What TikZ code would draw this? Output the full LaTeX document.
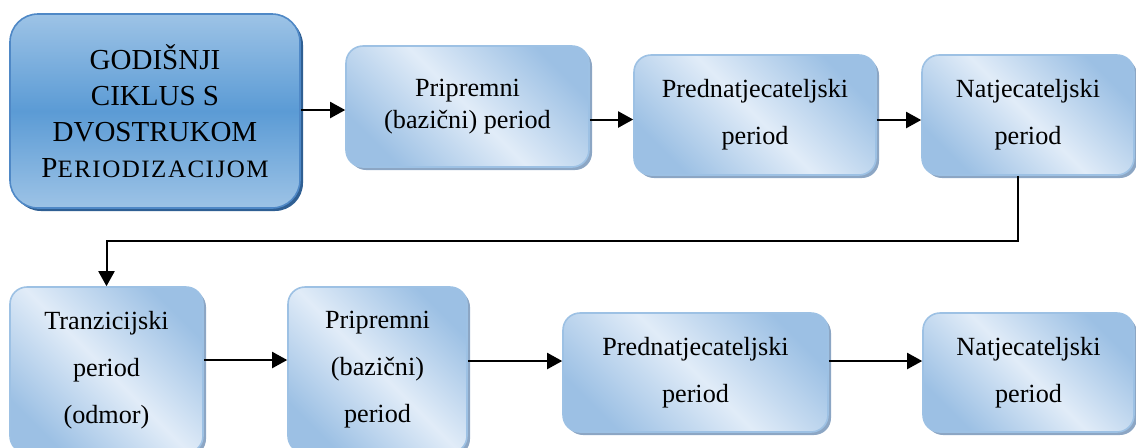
\documentclass[tikz,border=0pt]{standalone}
\usepackage{fontspec}
\setmainfont{Liberation Serif}
\usetikzlibrary{shadows,arrows.meta}
\definecolor{mainblue}{HTML}{5B9BD5}
\definecolor{mainlight}{HTML}{9DC3E6}
\definecolor{mainedge}{HTML}{4F88C6}
\definecolor{mainshadow}{HTML}{2F5F93}
\definecolor{boxlight}{HTML}{E1ECF8}
\definecolor{boxdark}{HTML}{9CC0E4}
\definecolor{boxedge}{HTML}{9DC1E4}
\definecolor{boxshadow}{HTML}{8CA6C4}

\begin{document}
\begin{tikzpicture}[x=0.5pt,y=0.5pt,
	bigbox/.style={draw=mainedge, line width=0.8pt, rounded corners=14pt,
		top color=mainlight, bottom color=mainlight, middle color=mainblue,
		drop shadow={shadow xshift=1.5pt, shadow yshift=-1.5pt, fill=mainshadow, opacity=1},
		align=center, inner sep=0pt, font=\fontsize{14.5}{18}\selectfont},
	period/.style={draw=boxedge, line width=0.8pt, rounded corners=8.5pt,
		top color=boxdark, bottom color=boxdark, middle color=boxlight, shading angle=-45,
		drop shadow={shadow xshift=1.5pt, shadow yshift=-1.5pt, fill=boxshadow, opacity=1},
		align=center, inner sep=0pt, font=\fontsize{13.1}{23.5}\selectfont},
	arr/.style={-{Triangle[length=7.5pt,width=8pt]}, line width=1pt}]
	\useasboundingbox (0,0) rectangle (1136,-447);
	% first row
	\node[bigbox, minimum width=145pt, minimum height=97pt] (cycle) at (155,-111)
		{GODIŠNJI\\CIKLUS S\\DVOSTRUKOM\\P{\fontsize{12.5}{18}\selectfont\addfontfeature{LetterSpace=6}ERIODIZACIJOM}};
	\node[period, minimum width=121.5pt, minimum height=60.5pt, font=\fontsize{13.1}{16}\selectfont] (prep1) at (467.5,-106.5)
		{Pripremni\\(bazični) period};
	\node[period, minimum width=121pt, minimum height=60pt] (precomp1) at (755,-115)
		{Prednatjecateljski\\period};
	\node[period, minimum width=106pt, minimum height=60pt] (comp1) at (1028,-115)
		{Natjecateljski\\period};
	% second row
	\node[period, minimum width=96.5pt, minimum height=83pt] (trans) at (106.5,-370)
		{Tranzicijski\\period\\(odmor)};
	\node[period, minimum width=89.5pt, minimum height=83pt] (prep2) at (377.5,-370)
		{Pripremni\\(bazični)\\period};
	\node[period, minimum width=132.5pt, minimum height=59.5pt] (precomp2) at (695.5,-372.5)
		{Prednatjecateljski\\period};
	\node[period, minimum width=105.5pt, minimum height=59.5pt] (comp2) at (1028.5,-372.5)
		{Natjecateljski\\period};
	\draw[arr] ([yshift=0.5pt]cycle.east) -- ([yshift=0.5pt]cycle.east -| prep1.west);
	\draw[arr] ([yshift=-6.5pt]prep1.east) -- ([yshift=-6.5pt]prep1.east -| precomp1.west);
	\draw[arr] ([yshift=-2.5pt]precomp1.east) -- ([yshift=-2.5pt]precomp1.east -| comp1.west);
	\draw[arr] ([xshift=-5pt]comp1.south) -- ++(0,-65) -| (trans.north); %Back to row two
	\draw[arr] ([yshift=5pt]trans.east) -- ([yshift=5pt]trans.east -| prep2.west);
	\draw[arr] ([yshift=4.5pt]prep2.east) -- ([yshift=4.5pt]prep2.east -| precomp2.west);
	\draw[arr] ([yshift=5.75pt]precomp2.east) -- ([yshift=5.75pt]precomp2.east -| comp2.west);
\end{tikzpicture}
\end{document}
